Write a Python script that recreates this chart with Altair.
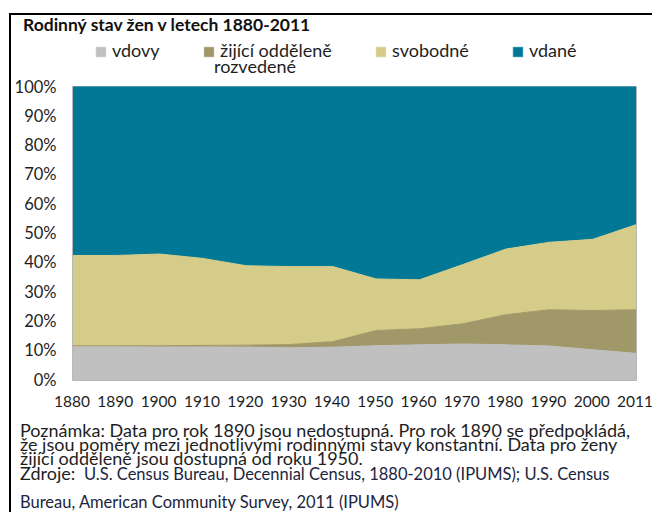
import altair as alt
import pandas as pd

years = ["1880", "1890", "1900", "1910", "1920", "1930", "1940",
         "1950", "1960", "1970", "1980", "1990", "2000", "2011"]
series = ["vdovy", "žijící odděleně rozvedené", "svobodné", "vdané"]
colors = ["#c0c0c0", "#a09868", "#d6cc8a", "#007896"]

vdovy = [11.4, 11.4, 11.3, 11.3, 11.2, 11.0, 11.2, 11.7, 12.0, 12.3, 12.0, 11.6, 10.3, 9.1]
rozvedene = [0.3, 0.3, 0.4, 0.5, 0.7, 1.1, 1.9, 5.2, 5.5, 6.9, 10.3, 12.4, 13.4, 14.9]
svobodne = [30.8, 30.8, 31.3, 29.7, 27.1, 26.6, 25.6, 17.6, 16.7, 20.2, 22.4, 23.0, 24.3, 29.0]
vdane = [round(100 - a - b - c, 1) for a, b, c in zip(vdovy, rozvedene, svobodne)]

title_text = "Rodinný stav žen v letech 1880-2011"
note_lines = [
    "Poznámka: Data pro rok 1890 jsou nedostupná. Pro rok 1890 se předpokládá,",
    " že jsou poměry mezi jednotlivými rodinnými stavy konstantní. Data pro ženy",
    "žijící odděleně jsou dostupná od roku 1950.",
]
source_label = "Zdroje:"
source_line = "U.S. Census Bureau, Decennial Census, 1880-2010 (IPUMS); U.S. Census"
source_last = "Bureau, American Community Survey, 2011 (IPUMS)"

rows = []
for i, y in enumerate(years):
    for k, (name, vals) in enumerate(zip(series, [vdovy, rozvedene, svobodne, vdane])):
        rows.append({"rok": y, "stav": name, "podil": vals[i] / 100, "poradi": k})
df = pd.DataFrame(rows)

FONT = "Lato"
W, H = 563, 293
TXT = "#1e1e1e"

area = alt.Chart(df).mark_area(
    opacity=1, line={"color": "#808080", "strokeWidth": 1}
).encode(
    x=alt.X("rok:O", sort=years, scale=alt.Scale(type="point", padding=0),
            axis=alt.Axis(title=None, labelAngle=0, ticks=False, domain=False,
                          labelPadding=14, labelFontSize=15.5, labelColor=TXT,
                          labelFont=FONT, labelOffset=-1.5)),
    y=alt.Y("podil:Q", stack="zero", scale=alt.Scale(domain=[0, 1]),
            axis=alt.Axis(title=None, format=".0%", values=[i / 10 for i in range(11)],
                          ticks=False, domain=False, grid=False, labelPadding=17,
                          labelFontSize=16.5, labelColor=TXT, labelFont=FONT)),
    color=alt.Color("stav:N", sort=series,
                    scale=alt.Scale(domain=series, range=colors),
                    legend=alt.Legend(
                        title=None, orient="none", legendX=19, legendY=-44,
                        direction="horizontal", columns=4, symbolType="square",
                        symbolSize=90, symbolOpacity=1, symbolStrokeColor="#8a8a8a",
                        symbolStrokeWidth=0.6,
                        labelFontSize=18, labelFont=FONT, labelColor=TXT,
                        columnPadding=40, labelOffset=2, labelBaseline="middle",
                        labelExpr="datum.label == 'žijící odděleně rozvedené' ? 'žijící odděleně' : datum.label",
                        labelLimit=300)),
    order=alt.Order("poradi:Q"),
)

def text_layer(txt, x, y, size=18, weight="normal", color=TXT, baseline="alphabetic", **kw):
    return alt.Chart(pd.DataFrame({"t": [txt]})).mark_text(
        align="left", baseline=baseline, fontSize=size, fontWeight=weight, font=FONT,
        color=color, **kw
    ).encode(text="t:N", x=alt.value(x), y=alt.value(y))

title = text_layer(title_text, -50, -61, size=17.5, weight="bold", color="#111111",
                   baseline="middle")
legend_second = text_layer("rozvedené", 141, -19, size=18, baseline="middle")
notes = text_layer("\n".join(note_lines), -53, 350, size=18, lineBreak="\n", lineHeight=13.8)
src1 = text_layer(source_label, -53, 393, size=18)
src2 = text_layer(source_line, 11, 393, size=16.5, color="#1c2540")
src3 = text_layer(source_last, -53, 420.5, size=16.5, color="#1c2540")

frame_left = alt.Chart(pd.DataFrame({"a": [0]})).mark_rule(
    color="#000000", strokeWidth=2
).encode(x=alt.value(-63), y=alt.value(-73), y2=alt.value(450))
frame_top = alt.Chart(pd.DataFrame({"a": [0]})).mark_rule(
    color="#000000", strokeWidth=2
).encode(x=alt.value(-64), x2=alt.value(600), y=alt.value(-73))

chart = alt.layer(area, title, legend_second, notes, src1, src2, src3,
                  frame_left, frame_top).properties(
    width=W, height=H,
    autosize=alt.AutoSizeParams(type="none"),
    padding={"left": 65, "top": 79, "right": 16, "bottom": 132},
    background="white",
).configure_view(stroke="#a0a0a0", strokeWidth=1.5)

chart.save("out.html", embed_options={"renderer": "svg", "actions": False})
